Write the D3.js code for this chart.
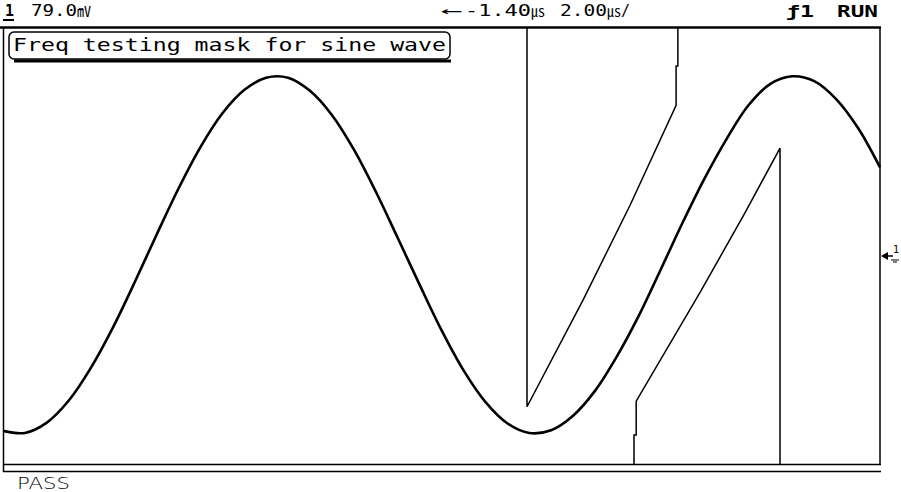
<!DOCTYPE html>
<html>
<head>
<meta charset="utf-8">
<script src="https://cdn.jsdelivr.net/npm/d3@7"></script>
<style>
  body { margin: 0; background: #fff; }
  text { font-family: "DejaVu Sans Mono", monospace; fill: #000; }
</style>
</head>
<body>
<svg id="scope"></svg>
<script>
// screen: 10 div x 2.00us/div, 8 div x 79.0mV/div
var timeDomain = [0, 20];          // us
var voltDomain = [-316, 316];      // mV

// measured trace, one sample every 0.5 us (mV)
var traceTime = d3.range(0, 20.01, 0.5);
var traceVolt = [-268, -271, -256, -224, -177, -119, -53, 16, 83, 143,
                 192, 226, 244, 244, 225, 190, 140, 79, 12, -56,
                 -122, -180, -226, -257, -271, -267, -246, -210, -160, -101,
                 -34, 34, 98, 155, 204, 235, 246, 239, 213, 171, 114];

// upper mask edge (region above it fails)
var upperMaskTime = [11.95, 11.95, 13.23, 14.30, 15.35, 15.35, 15.39, 15.39];
var upperMaskVolt = [316, -233, -78, 59, 204, 261, 261, 316];

// lower mask edge (region below it fails)
var lowerMaskTime = [14.39, 14.39, 14.44, 14.44, 15.90, 16.92, 17.72, 17.72];
var lowerMaskVolt = [-316, -274, -274, -225, -67, 48, 142, -316];

var headerLabels = { channel: "1", scale: "79.0", delay: "-1.40", timebase: "2.00", trig: "1", mode: "RUN" };
var captionText = "Freq testing mask for sine wave";
var statusText = "PASS";

var W = 901, H = 492;
var svg = d3.select("#scope").attr("width", W).attr("height", H);
svg.append("rect").attr("width", W).attr("height", H).attr("fill", "#fff");

var x = d3.scaleLinear().domain(timeDomain).range([3, 880]);
var y = d3.scaleLinear().domain(voltDomain).range([464, 28]);

// frame
svg.append("line").attr("x1", 0).attr("x2", 881).attr("y1", 27.5).attr("y2", 27.5)
    .attr("stroke", "#000").attr("stroke-width", 2.5);
svg.append("line").attr("x1", 3.5).attr("x2", 3.5).attr("y1", 27).attr("y2", 472)
    .attr("stroke", "#000").attr("stroke-width", 1.5);
svg.append("line").attr("x1", 880).attr("x2", 880).attr("y1", 27).attr("y2", 465)
    .attr("stroke", "#000").attr("stroke-width", 1.5);
svg.append("line").attr("x1", 3).attr("x2", 881).attr("y1", 464.5).attr("y2", 464.5)
    .attr("stroke", "#000").attr("stroke-width", 1.5);
svg.append("line").attr("x1", 3).attr("x2", 881).attr("y1", 471.5).attr("y2", 471.5)
    .attr("stroke", "#000").attr("stroke-width", 1.5);

// masks
var maskLine = d3.line().x(function (d) { return x(d[0]); }).y(function (d) { return y(d[1]); });
svg.append("path").datum(d3.zip(upperMaskTime, upperMaskVolt)).attr("d", maskLine)
    .attr("fill", "none").attr("stroke", "#000").attr("stroke-width", 1.5);
svg.append("path").datum(d3.zip(lowerMaskTime, lowerMaskVolt)).attr("d", maskLine)
    .attr("fill", "none").attr("stroke", "#000").attr("stroke-width", 1.5);

// trace
var traceLine = d3.line().curve(d3.curveCatmullRom)
    .x(function (d) { return x(d[0]); }).y(function (d) { return y(d[1]); });
svg.append("path").datum(d3.zip(traceTime, traceVolt)).attr("d", traceLine)
    .attr("fill", "none").attr("stroke", "#000").attr("stroke-width", 2.6);

// number followed by the small squared unit glyph
function reading(px, py, width, value, unit, tail) {
    var t = svg.append("text").attr("x", px).attr("y", py).attr("font-size", 15);
    t.append("tspan").attr("textLength", width).attr("lengthAdjust", "spacingAndGlyphs").text(value);
    t.append("tspan").attr("font-size", 14).attr("dx", 0)
        .style("font-family", "'Noto Sans CJK JP', sans-serif").text(unit);
    if (tail) t.append("tspan").attr("dx", 0).text(tail);
    return t;
}

// header
svg.append("text").attr("x", 5).attr("y", 16).attr("font-size", 15).attr("font-weight", "bold")
    .text(headerLabels.channel);
svg.append("line").attr("x1", 3).attr("x2", 14).attr("y1", 20).attr("y2", 20)
    .attr("stroke", "#000").attr("stroke-width", 2);
reading(31, 16, 46, headerLabels.scale, "\u33b7");

svg.append("text").attr("x", 440).attr("y", 16).attr("font-size", 15)
    .attr("textLength", 22).attr("lengthAdjust", "spacingAndGlyphs").text("\u2190");
reading(465, 16, 66, headerLabels.delay, "\u33b2");
reading(560, 16, 47, headerLabels.timebase, "\u33b2", "/");

svg.append("text").attr("x", 786).attr("y", 17).attr("font-size", 15).attr("font-weight", "bold")
    .attr("textLength", 28).attr("lengthAdjust", "spacingAndGlyphs")
    .text("\u0192" + headerLabels.trig);
svg.append("text").attr("x", 837).attr("y", 17).attr("font-size", 15).attr("font-weight", "bold")
    .attr("textLength", 41).attr("lengthAdjust", "spacingAndGlyphs").text(headerLabels.mode);

// caption box
svg.append("line").attr("x1", 14).attr("x2", 451).attr("y1", 61).attr("y2", 61)
    .attr("stroke", "#000").attr("stroke-width", 3);
svg.append("rect").attr("x", 9).attr("y", 32).attr("width", 441).attr("height", 27).attr("rx", 5)
    .attr("fill", "#fff").attr("stroke", "#000").attr("stroke-width", 1.5);
svg.append("text").attr("x", 13).attr("y", 51).attr("font-size", 17)
    .attr("textLength", 433).attr("lengthAdjust", "spacingAndGlyphs").text(captionText);

// ground marker at 0 V
var g0 = y(0) + 10;
svg.append("path").attr("d", "M881," + g0 + "l7,-4v8z").attr("fill", "#000");
svg.append("line").attr("x1", 885).attr("x2", 893).attr("y1", g0).attr("y2", g0)
    .attr("stroke", "#000").attr("stroke-width", 1.5);
svg.append("text").attr("x", 893).attr("y", g0 - 3).attr("font-size", 10).text("1");
svg.append("line").attr("x1", 891).attr("x2", 899).attr("y1", g0 + 4).attr("y2", g0 + 4)
    .attr("stroke", "#000").attr("stroke-width", 1);
svg.append("line").attr("x1", 893).attr("x2", 897).attr("y1", g0 + 6).attr("y2", g0 + 6)
    .attr("stroke", "#000").attr("stroke-width", 1);

// status
svg.append("text").attr("x", 17).attr("y", 489).attr("font-size", 15)
    .style("font-family", "'DejaVu Sans', sans-serif").attr("font-weight", 300)
    .attr("textLength", 53).attr("lengthAdjust", "spacingAndGlyphs").text(statusText);
</script>
</body>
</html>
